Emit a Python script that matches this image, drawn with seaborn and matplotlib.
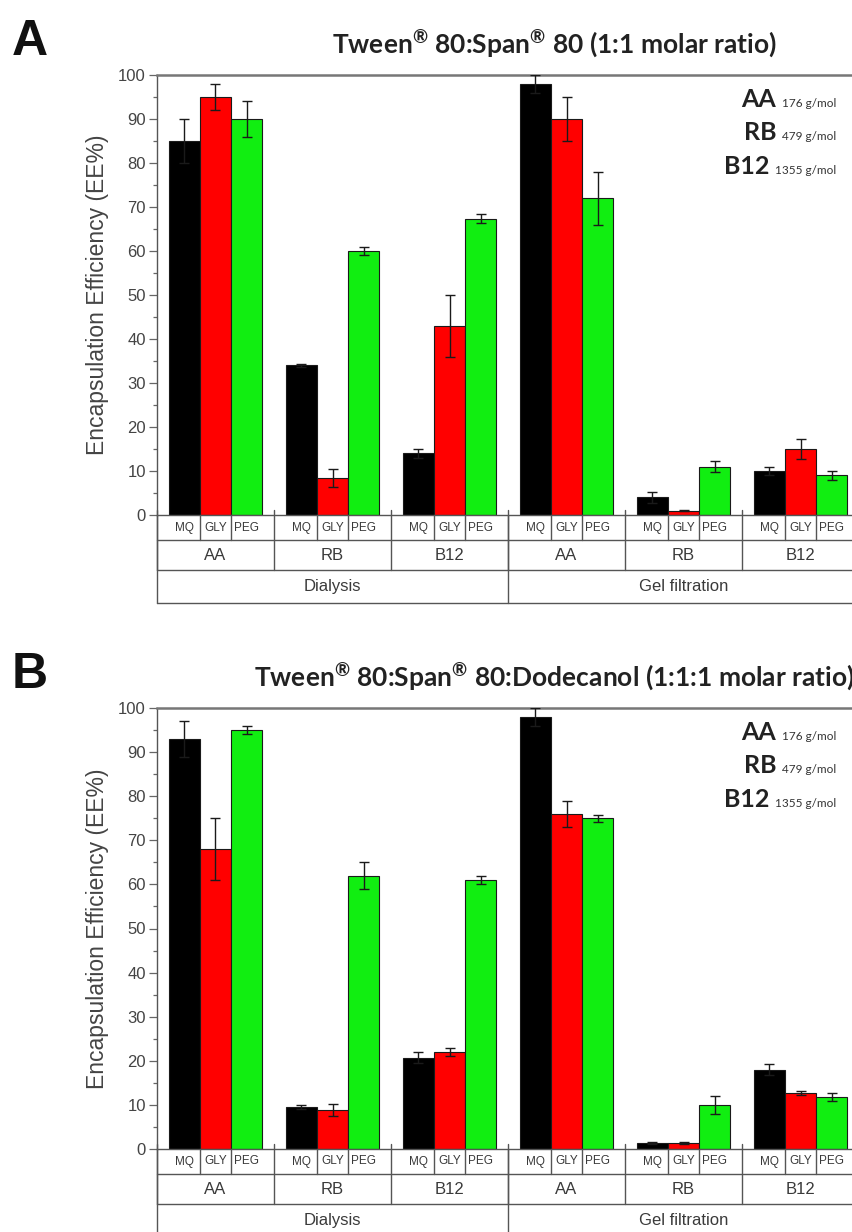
import numpy as np
import pandas as pd
import matplotlib
matplotlib.use('Agg')
import matplotlib.pyplot as plt
import seaborn as sns
from matplotlib.offsetbox import TextArea, HPacker, VPacker, AnchoredOffsetbox

# categories
methods = ['Dialysis', 'Gel filtration']
drugs = ['AA', 'RB', 'B12']
solvents = ['MQ', 'GLY', 'PEG']
molar_mass = ['176 g/mol', '479 g/mol', '1355 g/mol']
colors = {'MQ': '#000000', 'GLY': '#ff0000', 'PEG': '#11ee11'}

# EE% per group (Dialysis AA, RB, B12, Gel AA, RB, B12), each MQ / GLY / PEG
ee_a = [[85, 95, 90], [34, 8.4, 60], [14, 43, 67.3], [98, 90, 72], [4, 1, 11], [10, 15, 9]]
err_a = [[5, 3, 4], [0.3, 2, 1], [1, 7, 1], [2, 5, 6], [1.2, 0.2, 1.2], [0.9, 2.2, 1]]
ee_b = [[93, 68, 95], [9.5, 8.8, 62], [20.7, 22, 61], [98, 76, 75], [1.3, 1.3, 10], [18, 12.7, 11.8]]
err_b = [[4, 7, 1], [0.5, 1.4, 3], [1.2, 1, 1], [2, 3, 0.8], [0.2, 0.2, 2], [1.2, 0.4, 1]]

titles = ['Tween$^{®}$ 80:Span$^{®}$ 80 (1:1 molar ratio)',
          'Tween$^{®}$ 80:Span$^{®}$ 80:Dodecanol (1:1:1 molar ratio)']
letters = ['A', 'B']

sns.set_style('ticks')
plt.rcParams['font.family'] = ['Liberation Sans', 'DejaVu Sans']
plt.rcParams['mathtext.fontset'] = 'custom'
plt.rcParams['mathtext.rm'] = 'Lato:bold'
plt.rcParams['mathtext.default'] = 'rm'

W, H = 853, 1232
fig = plt.figure(figsize=(W / 100, H / 100), dpi=100)

groups = [f'{m}|{d}' for m in methods for d in drugs]
ink = '#3a3a3a'


def draw_panel(ax, ee, err, letter, title, top_px):
    rows = []
    for gi, g in enumerate(groups):
        for si, s in enumerate(solvents):
            rows.append({'group': g, 'solvent': s, 'ee': ee[gi][si], 'err': err[gi][si]})
    df = pd.DataFrame(rows)

    sns.barplot(data=df, x='group', y='ee', hue='solvent', order=groups, hue_order=solvents,
                palette=colors, saturation=1, errorbar=None, width=0.8, gap=0,
                edgecolor='#1a1a1a', linewidth=0.8, legend=False, ax=ax)

    bar_conts = list(ax.containers)
    centers = {}
    for cont, s in zip(bar_conts, solvents):
        sub = df[df.solvent == s]
        xs = [p.get_x() + p.get_width() / 2 for p in cont]
        centers[s] = xs
        ax.errorbar(xs, sub['ee'], yerr=sub['err'], fmt='none', ecolor='#1a1a1a',
                    elinewidth=1, capsize=3.5, capthick=1, zorder=5)

    ax.set_xlim(-0.5, 5.5)
    ax.set_ylim(0, 100)
    ax.set_yticks(np.arange(0, 101, 10))
    ax.set_yticks(np.arange(0, 101, 5), minor=True)
    ax.tick_params(axis='y', which='major', length=6, width=0.9, colors='#666666',
                   labelcolor='#444444', labelsize=12, pad=2)
    ax.tick_params(axis='y', which='minor', length=3, width=0.9, colors='#666666')
    ax.set_xticks([])
    ax.set_xlabel('')
    ax.set_ylabel('Encapsulation Efficiency (EE%)', fontsize=16.5, color='#444444')
    ax.yaxis.set_label_coords(-0.068, 0.5)
    for side in ['left', 'bottom', 'right']:
        ax.spines[side].set_color('#555555')
        ax.spines[side].set_linewidth(1.0)
    ax.spines['top'].set_color('#777777')
    ax.spines['top'].set_linewidth(1.8)

    # category table under the axis
    hpx = ax.get_position().height * H
    r1, r2, r3 = -25 / hpx, -55 / hpx, -88 / hpx
    tr = ax.get_xaxis_transform()
    lk = dict(color='#555555', lw=1.0, transform=tr, clip_on=False)
    for r in [r1, r2, r3]:
        ax.plot([-0.5, 5.5], [r, r], **lk)
    for gi in range(len(groups) + 1):
        ax.plot([gi - 0.5, gi - 0.5], [0.012, r2], **lk)
    for x in [-0.5, 2.5, 5.5]:
        ax.plot([x, x], [0, r3], **lk)
    for gi in range(len(groups)):
        for x in [gi - 0.4 / 3, gi + 0.4 / 3]:
            ax.plot([x, x], [0, r1], **lk)
    for s in solvents:
        for x in centers[s]:
            ax.text(x, r1 / 2, s, transform=tr, ha='center', va='center',
                    fontsize=8.5, color=ink)
    for gi, g in enumerate(groups):
        ax.text(gi, (r1 + r2) / 2, g.split('|')[1], transform=tr, ha='center',
                va='center', fontsize=12, color=ink)
    for mi, m in enumerate(methods):
        ax.text(mi * 3 + 1, (r2 + r3) / 2, m, transform=tr, ha='center',
                va='center', fontsize=12, color=ink)

    # molar mass note
    lines = []
    for d, mm in zip(drugs, molar_mass):
        big = TextArea(d, textprops=dict(fontsize=18, family='Lato', weight='bold', color='#222222'))
        small = TextArea(mm, textprops=dict(fontsize=8.5, family='Lato', color='#333333'))
        lines.append(HPacker(children=[big, small], align='baseline', pad=0, sep=4))
    box = VPacker(children=lines, align='right', pad=0, sep=7.5)
    anch = AnchoredOffsetbox(loc='upper right', child=box, frameon=False, pad=0, borderpad=0,
                             bbox_to_anchor=(836 / W, 1 - (top_px + 13) / H),
                             bbox_transform=fig.transFigure)
    ax.add_artist(anch)

    fig.text(30 / W, 1 - (top_px - 33) / H, letter, fontsize=36, weight='bold',
             ha='center', va='center', color='#111111')
    fig.text(554 / W, 1 - (top_px - 31) / H, title, fontsize=19, family='Lato',
             weight='bold', ha='center', va='center', color='#222222')


ax_w = 702 / W
ax_a = fig.add_axes([157 / W, 1 - 515 / H, ax_w, 440 / H])
ax_b = fig.add_axes([157 / W, 1 - 1149 / H, ax_w, 441 / H])

draw_panel(ax_a, ee_a, err_a, letters[0], titles[0], 75)
draw_panel(ax_b, ee_b, err_b, letters[1], titles[1], 708)

fig.savefig('out.png', dpi=100)
